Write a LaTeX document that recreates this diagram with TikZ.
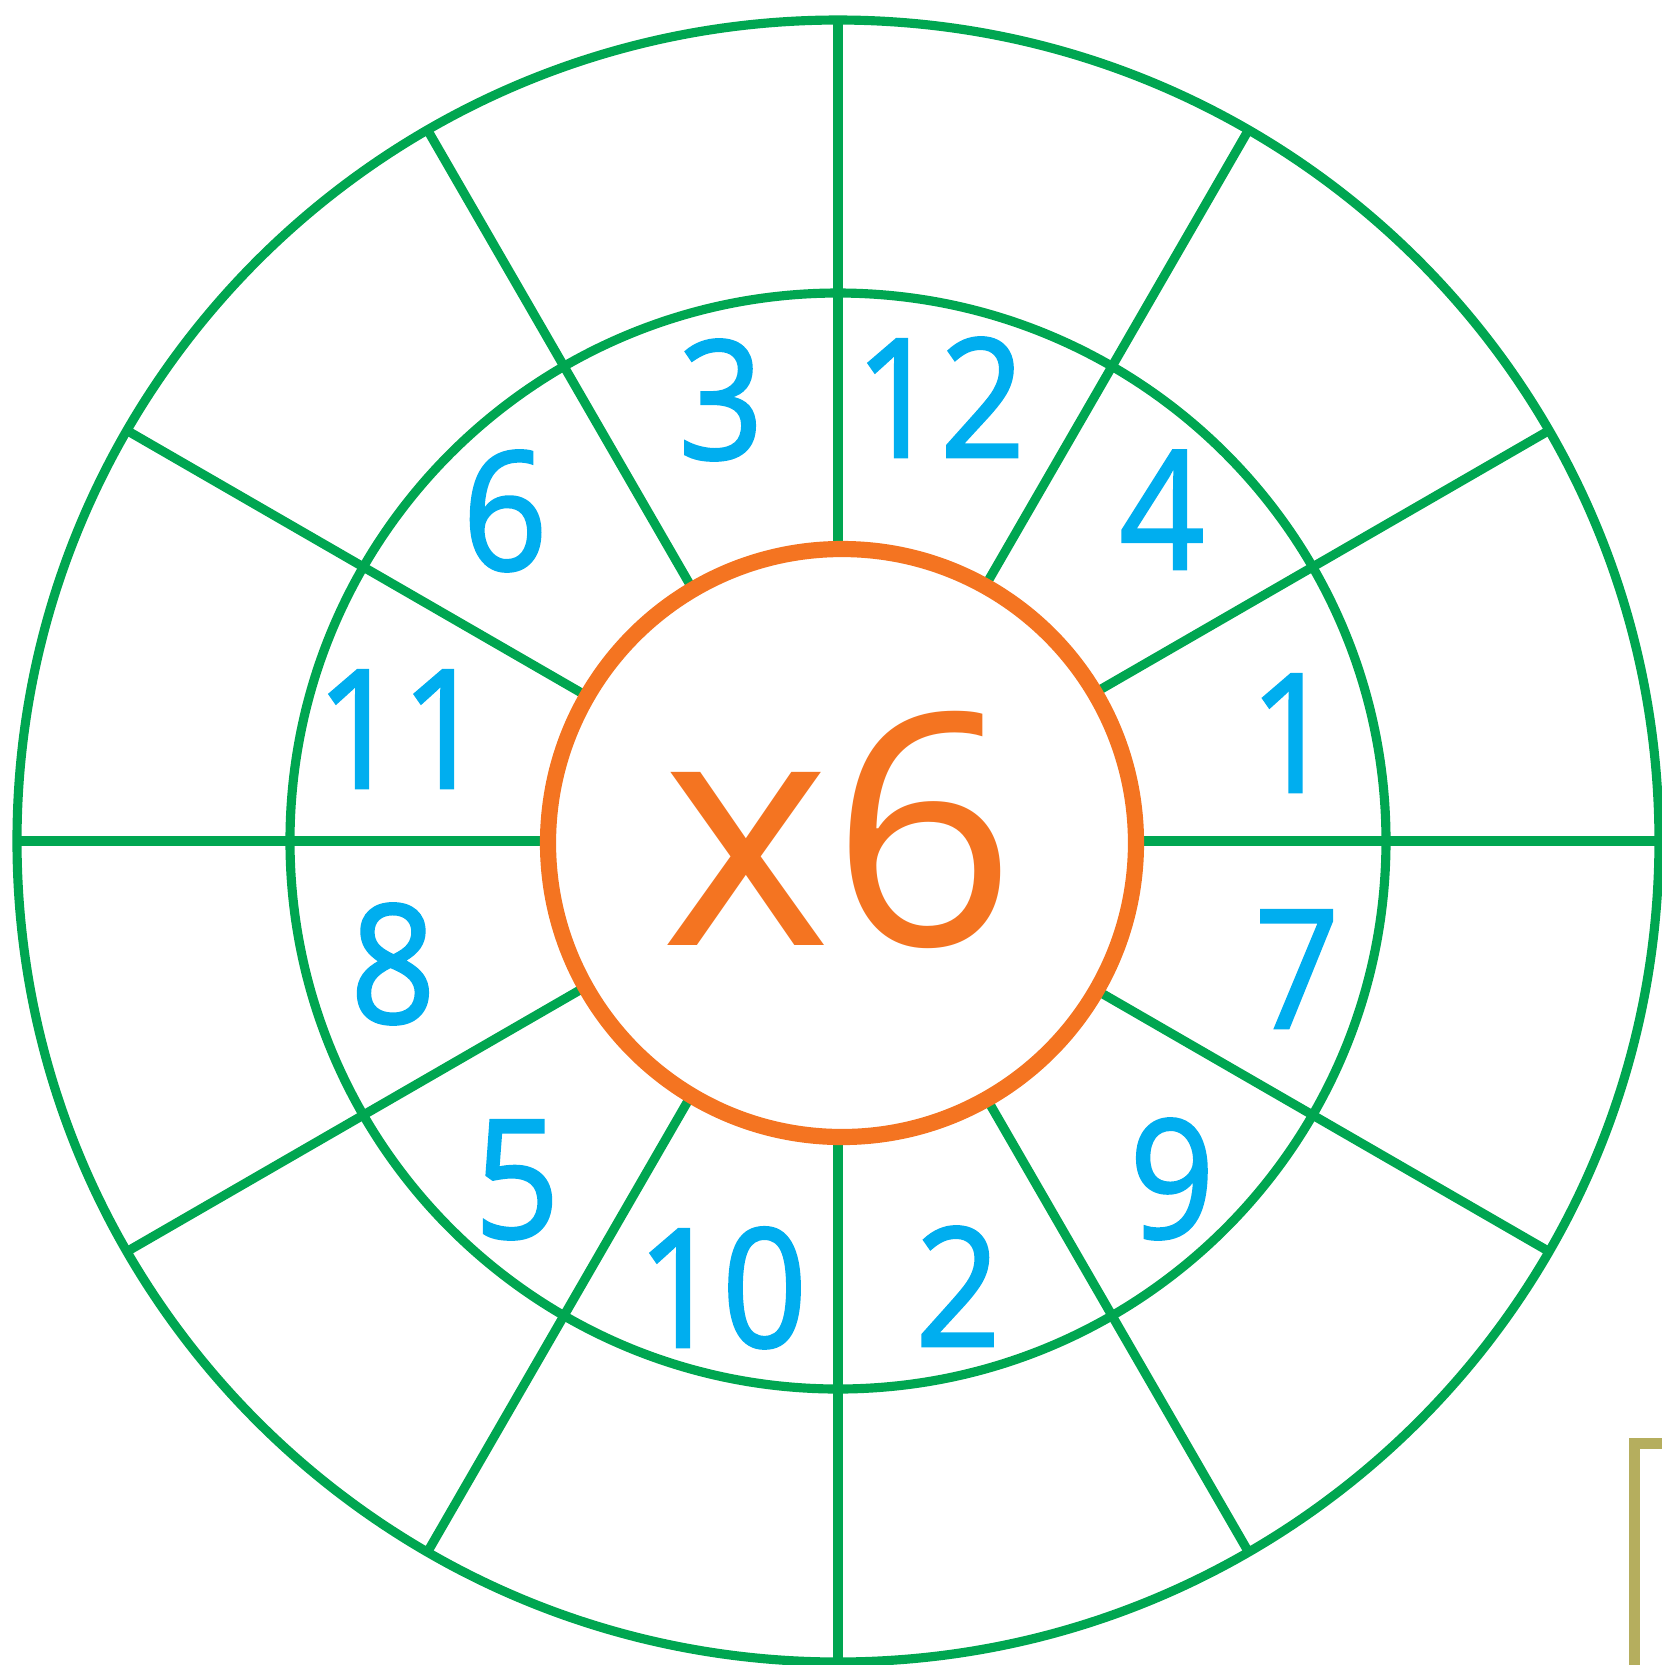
\documentclass[tikz,border=0pt]{standalone}
\usepackage{fontspec}
\setmainfont{Open Sans}
\newfontfamily\numfont[FakeStretch=0.9,FakeBold=1.5]{Open Sans}
\usetikzlibrary{positioning,calc}
\definecolor{ringgreen}{HTML}{00A651}
\definecolor{ringorange}{HTML}{F47421}
\definecolor{numblue}{HTML}{00AEEF}
\definecolor{frameolive}{HTML}{B5AE5E}

\begin{document}
\begin{tikzpicture}[
  x=0.01cm, y=-0.01cm,
  ring/.style={draw=ringgreen, line width=2.6pt},
  spoke/.style={draw=ringgreen, line width=2.6pt},
  num/.style={anchor=base, inner sep=0pt, text=numblue, font=\numfont\fontsize{47}{47}\selectfont},
  times/.style={anchor=base, inner sep=0pt, text=ringorange, font=\fontsize{92}{92}\selectfont},
]
  \useasboundingbox (0,0) rectangle (1662,1665);
  \coordinate (c) at (838,841);
  \coordinate (co) at (842,843);

  % wheel
  \path[ring] (c) circle (821);
  \path[ring] (c) circle (548);
  \foreach \a in {0,30,...,330}
    \path[spoke] ($(c)+(\a:280)$) -- ($(c)+(\a:821)$);
  \path[draw=ringorange, line width=4.6pt, fill=white] (co) circle (294);

  % numbers
  \node[num] (n3) at (721,459) {3};
  \node[num] (n12) at (940,457) {12};
  \node[num] (n4) at (1162,569) {4};
  \node[num] (n6) at (505,570) {6};
  \node[num] (n11) at (401,788) {11};
  \node[num] (n1) at (1292,792) {1};
  \node[num] (n8) at (393,1023) {8};
  \node[num] (n7) at (1297,1028) {7};
  \node[num] (n5) at (517,1238) {5};
  \node[num] (n9) at (1172,1238) {9};
  \node[num] (n10) at (722,1347) {10};
  \node[num] (n2) at (958,1346) {2};
  \node[times] (x6) at (839,945) {x6};

  % corner
  \fill[frameolive] (1629,1438) rectangle (1662,1449);
  \fill[frameolive] (1629,1438) rectangle (1640,1665);
\end{tikzpicture}
\end{document}
